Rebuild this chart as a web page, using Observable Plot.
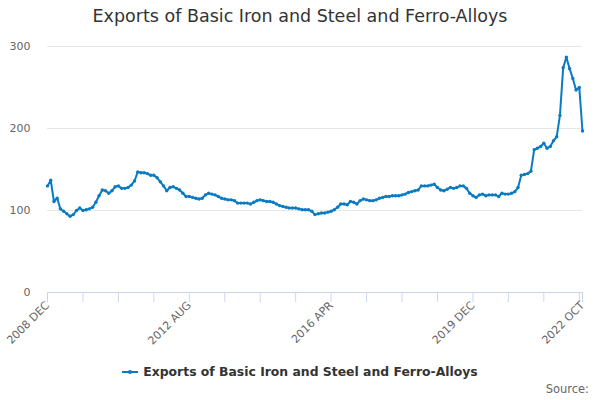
<!DOCTYPE html>
<html>
<head>
<meta charset="utf-8">
<script src="https://cdn.jsdelivr.net/npm/d3@7"></script>
<script src="https://cdn.jsdelivr.net/npm/@observablehq/plot@0.6"></script>
<style>
  html, body { margin: 0; padding: 0; background: #fff; }
  #wrap { position: relative; width: 600px; height: 400px; font-family: "DejaVu Sans", sans-serif; overflow: hidden; }
  #title { position: absolute; top: 6px; left: 0; width: 600px; text-align: center; font-size: 17.5px; color: #333; }
  #chart { position: absolute; top: 35px; left: 0; }
  #legend { position: absolute; top: 364px; left: 0; width: 600px; display: flex; justify-content: center; align-items: center; font-size: 12.4px; font-weight: bold; color: #333; }
  #legend svg { margin-right: 5px; }
  #source { position: absolute; top: 382px; right: 11px; font-size: 11.5px; color: #666; }
</style>
</head>
<body>
<div id="wrap">
  <div id="title">Exports of Basic Iron and Steel and Ferro-Alloys</div>
  <div id="chart"></div>
  <div id="legend"><svg width="16" height="10"><line x1="0" y1="5" x2="16" y2="5" stroke="#0a7bc2" stroke-width="2"/><circle cx="8" cy="5" r="2" fill="#0a7bc2"/></svg><span>Exports of Basic Iron and Steel and Ferro-Alloys</span></div>
  <div id="source">Source:</div>
</div>
<script>
const seriesName = "Exports of Basic Iron and Steel and Ferro-Alloys";
const startYear = 2008, startMonth = 11; // December 2008
const monthNames = ["JAN","FEB","MAR","APR","MAY","JUN","JUL","AUG","SEP","OCT","NOV","DEC"];
const values = [
  130,137,111,115,102,99,96,93,95,100,103,100,101,102,104,110,118,125,124,121,
  124,129,130,127,127,128,131,136,147,146,146,145,143,143,140,135,130,124,128,129,
  127,125,121,117,117,116,115,114,115,119,121,120,119,117,115,114,113,113,112,109,
  109,109,109,108,110,112,113,112,111,111,110,108,106,105,104,103,103,103,102,101,
  101,101,99,95,96,97,97,98,99,101,104,108,108,107,111,110,108,112,114,113,
  112,112,113,115,116,117,117,118,118,118,119,120,122,123,124,125,130,130,130,131,
  132,128,125,124,126,128,127,128,130,130,127,121,118,116,119,120,118,119,119,119,
  117,121,120,120,121,123,128,143,144,145,148,174,176,178,182,176,178,185,190,216,
  274,287,273,261,247,250,197
];
const months = values.map((_, i) => {
  const m = startMonth + i;
  return `${startYear + Math.floor(m / 12)} ${monthNames[m % 12]}`;
});
const tickMonths = months.filter((_, i) => i % 11 === 0 || i === months.length - 1);
const tickLabels = ["2008 DEC", "2012 AUG", "2016 APR", "2019 DEC", "2022 OCT"];
const yTicks = [0, 100, 200, 300];

const data = values.map((v, i) => ({month: months[i], value: v}));
const color = "#0a7bc2";

const chart = Plot.plot({
  width: 600,
  height: 320,
  marginLeft: 47,
  marginRight: 18,
  marginTop: 11,
  marginBottom: 63,
  style: {fontFamily: "DejaVu Sans, sans-serif", fontSize: "11px", color: "#666", background: "transparent", overflow: "visible"},
  x: {type: "point", domain: months, padding: 0, label: null},
  y: {domain: [0, 300], label: null},
  marks: [
    Plot.gridY(yTicks.filter(d => d > 0), {stroke: "#e6e6e6", strokeOpacity: 1}),
    Plot.axisY(yTicks, {tickSize: 0, tickPadding: 17, fontSize: 11, fill: "#666", label: null}),
    Plot.ruleY([0], {stroke: "#ccd6eb", strokeWidth: 1}),
    Plot.axisX(tickMonths, {tickSize: 10, stroke: "#ccd6eb", strokeOpacity: 1, tickRotate: -45, tickPadding: 1, fontSize: 11, fill: "#666", label: null,
      tickFormat: d => tickLabels.includes(d) ? d : ""}),
    Plot.line(data, {x: "month", y: "value", stroke: color, strokeWidth: 2}),
    Plot.dot(data, {x: "month", y: "value", fill: color, r: 1.7})
  ]
});
document.getElementById("chart").appendChild(chart);
</script>
</body>
</html>
